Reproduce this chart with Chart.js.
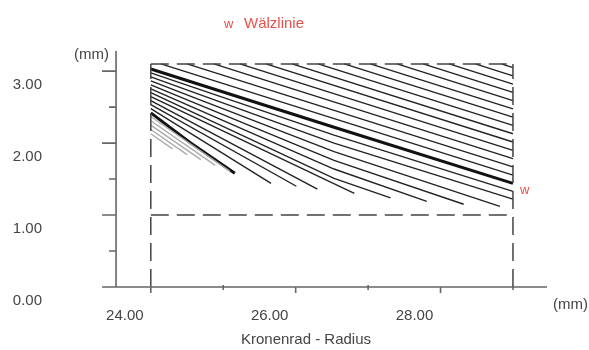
<!DOCTYPE html>
<html>
<head>
<meta charset="utf-8">
<script src="https://cdn.jsdelivr.net/npm/chart.js@4.4.1/dist/chart.umd.min.js"></script>
<style>
  html, body { margin: 0; padding: 0; background: #fff; }
</style>
</head>
<body>
<canvas id="gearchart" width="589" height="350"></canvas>
<script>
// axis ranges (mm)
var xMin = 23.34, xMax = 29.47;
var yMin = 0, yMax = 3.28;
var yAxisAt = 23.52;
var xLabelValues = [24, 26, 28];
var yLabelValues = [0, 1, 2, 3];
var xMajorTicks = [24, 26, 28];
var xMinorTicks = [25, 27, 29];
var yMajorTicks = [0, 1, 2, 3];
var yMinorTicks = [0.5, 1.5, 2.5];
var xTitle = 'Kronenrad - Radius';

// dashed frame
var frameX = [24.0, 29.0];
var frameY = [1.0, 3.10];

// Waelzlinie (thick line)
var pitchX = [24.0, 26.53, 29.0];
var pitchY = [3.03, 2.22, 1.44];
// second thick line
var rootX = [24.0, 24.54, 25.16];
var rootY = [2.42, 2.01, 1.58];

// thin lines above the Waelzlinie: from top of frame to right side
var upperStartX = [24.14, 24.50, 24.87, 25.23, 25.59, 25.95, 26.31, 26.67, 27.03, 27.40, 27.76, 28.12, 28.48, 28.84];
var upperEndY = [1.555, 1.67, 1.785, 1.90, 2.015, 2.13, 2.245, 2.36, 2.475, 2.59, 2.705, 2.82, 2.935, 3.05];

// thin lines between the two thick lines
var lowerStartY = [2.975, 2.92, 2.865, 2.81, 2.755, 2.70, 2.645, 2.59, 2.535, 2.48];
var lowerMidX = 26.53;
var lowerMidY = [2.11, 2.00, 1.88, 1.76, 1.64, 1.51, null, null, null, null];
var lowerEndX = [29.0, 29.0, 28.82, 28.32, 27.81, 27.31, 26.81, 26.30, 26.01, 25.66];
var lowerEndY = [1.33, 1.22, 1.12, 1.15, 1.19, 1.24, 1.30, 1.36, 1.40, 1.44];

// grey lines under the second thick line
var greyStartY = [2.37, 2.31, 2.25, 2.19, 2.13];
var greyEndX = [25.09, 24.89, 24.69, 24.50, 24.30];
var greyEndY = [1.61, 1.69, 1.77, 1.84, 1.92];

var fontName = '"Liberation Sans", Arial, sans-serif';
var textColor = '#444';
var red = '#e4504c';

function line(points, color, width, dash) {
  return {
    data: points,
    showLine: true,
    borderColor: color,
    borderWidth: width,
    borderDash: dash || [],
    pointRadius: 0,
    fill: false,
    tension: 0
  };
}

var datasets = [];

// frame
var frameStyle = ['#444', 1.5, [18, 8]];
datasets.push(line([{x: frameX[0], y: frameY[1]}, {x: frameX[1], y: frameY[1]}], ...frameStyle));
datasets.push(line([{x: frameX[0], y: frameY[0]}, {x: frameX[1], y: frameY[0]}], ...frameStyle));
datasets.push(line([{x: frameX[0], y: yMin}, {x: frameX[0], y: frameY[1]}], ...frameStyle));
datasets.push(line([{x: frameX[1], y: yMin}, {x: frameX[1], y: frameY[1]}], ...frameStyle));

for (var i = 0; i < greyStartY.length; i++) {
  datasets.push(line([{x: frameX[0], y: greyStartY[i]}, {x: greyEndX[i], y: greyEndY[i]}], '#aaa', 1.3));
}

for (var i = 0; i < upperStartX.length; i++) {
  datasets.push(line([{x: upperStartX[i], y: frameY[1]}, {x: frameX[1], y: upperEndY[i]}], '#222', 1.35));
}

for (var i = 0; i < lowerStartY.length; i++) {
  var pts = [{x: frameX[0], y: lowerStartY[i]}];
  if (lowerMidY[i] !== null) pts.push({x: lowerMidX, y: lowerMidY[i]});
  pts.push({x: lowerEndX[i], y: lowerEndY[i]});
  datasets.push(line(pts, '#222', 1.35));
}

var rootSet = line(rootX.map(function(x, i) { return {x: x, y: rootY[i]}; }), '#111', 3);
datasets.push(rootSet);
var pitchSet = line(pitchX.map(function(x, i) { return {x: x, y: pitchY[i]}; }), '#111', 3);
pitchSet.label = 'Wälzlinie';
datasets.push(pitchSet);

var axisPlugin = {
  id: 'axisPlugin',
  afterDatasetsDraw: function(chart) {
    var ctx = chart.ctx, xs = chart.scales.x, ys = chart.scales.y;
    var x0 = xs.getPixelForValue(yAxisAt), y0 = ys.getPixelForValue(yMin);
    var yTop = ys.getPixelForValue(yMax);
    ctx.save();
    ctx.strokeStyle = '#666';
    ctx.lineWidth = 1.6;
    ctx.beginPath();
    ctx.moveTo(xs.left, y0); ctx.lineTo(xs.right, y0);
    ctx.moveTo(x0, y0); ctx.lineTo(x0, yTop);
    yMajorTicks.forEach(function(v) { var p = ys.getPixelForValue(v); ctx.moveTo(x0 - 14, p); ctx.lineTo(x0, p); });
    yMinorTicks.forEach(function(v) { var p = ys.getPixelForValue(v); ctx.moveTo(x0 - 7, p); ctx.lineTo(x0, p); });
    xMajorTicks.forEach(function(v) { var p = xs.getPixelForValue(v); ctx.moveTo(p, y0); ctx.lineTo(p, y0 + 6); });
    xMinorTicks.forEach(function(v) { var p = xs.getPixelForValue(v); ctx.moveTo(p, y0 - 2); ctx.lineTo(p, y0 + 3); });
    ctx.stroke();

    ctx.font = '15px ' + fontName;
    ctx.fillStyle = textColor;
    ctx.textBaseline = 'middle';
    ctx.textAlign = 'right';
    ctx.fillText('(mm)', x0 - 7, yTop + 4);
    ctx.textAlign = 'left';
    ctx.fillText('(mm)', xs.right + 6, y0 + 18);
    ctx.textAlign = 'center';
    ctx.fillText(xTitle, 306, y0 + 53);

    // legend
    ctx.textAlign = 'left';
    ctx.fillStyle = red;
    ctx.font = '13px ' + fontName;
    ctx.fillText('w', 224, 24);
    ctx.font = '15px ' + fontName;
    ctx.fillText('Wälzlinie', 244, 24);

    // marker at end of Waelzlinie
    var n = pitchX.length - 1;
    ctx.font = '13px ' + fontName;
    ctx.fillText('w', xs.getPixelForValue(pitchX[n]) + 7, ys.getPixelForValue(pitchY[n]) + 7);
    ctx.restore();
  }
};

var tickFont = { family: fontName, size: 15 };

function noPadding(s) {
  s.paddingTop = 0; s.paddingBottom = 0; s.paddingLeft = 0; s.paddingRight = 0;
}

new Chart(document.getElementById('gearchart'), {
  type: 'scatter',
  data: { datasets: datasets },
  plugins: [axisPlugin],
  options: {
    responsive: false,
    animation: false,
    devicePixelRatio: 1,
    layout: { padding: { left: 0, right: 42, top: 51, bottom: 0 } },
    plugins: {
      legend: { display: false },
      tooltip: { enabled: false }
    },
    scales: {
      x: {
        type: 'linear',
        min: xMin,
        max: xMax,
        border: { display: false },
        grid: { display: false, drawTicks: false },
        afterFit: function(s) { s.height = 63; noPadding(s); },
        afterBuildTicks: function(s) { s.ticks = xLabelValues.map(function(v) { return {value: v}; }); },
        ticks: {
          callback: function(v) { return Number(v).toFixed(2); },
          labelOffset: -26,
          padding: 20,
          color: textColor,
          font: tickFont,
          maxRotation: 0,
          autoSkip: false
        }
      },
      y: {
        type: 'linear',
        min: yMin,
        max: yMax,
        border: { display: false },
        grid: { display: false, drawTicks: false },
        afterFit: function(s) { s.width = 103; noPadding(s); },
        afterBuildTicks: function(s) { s.ticks = yLabelValues.map(function(v) { return {value: v}; }); },
        ticks: {
          callback: function(v) { return Number(v).toFixed(2); },
          labelOffset: 14,
          padding: 61,
          color: textColor,
          font: tickFont,
          autoSkip: false
        }
      }
    }
  }
});
</script>
</body>
</html>
